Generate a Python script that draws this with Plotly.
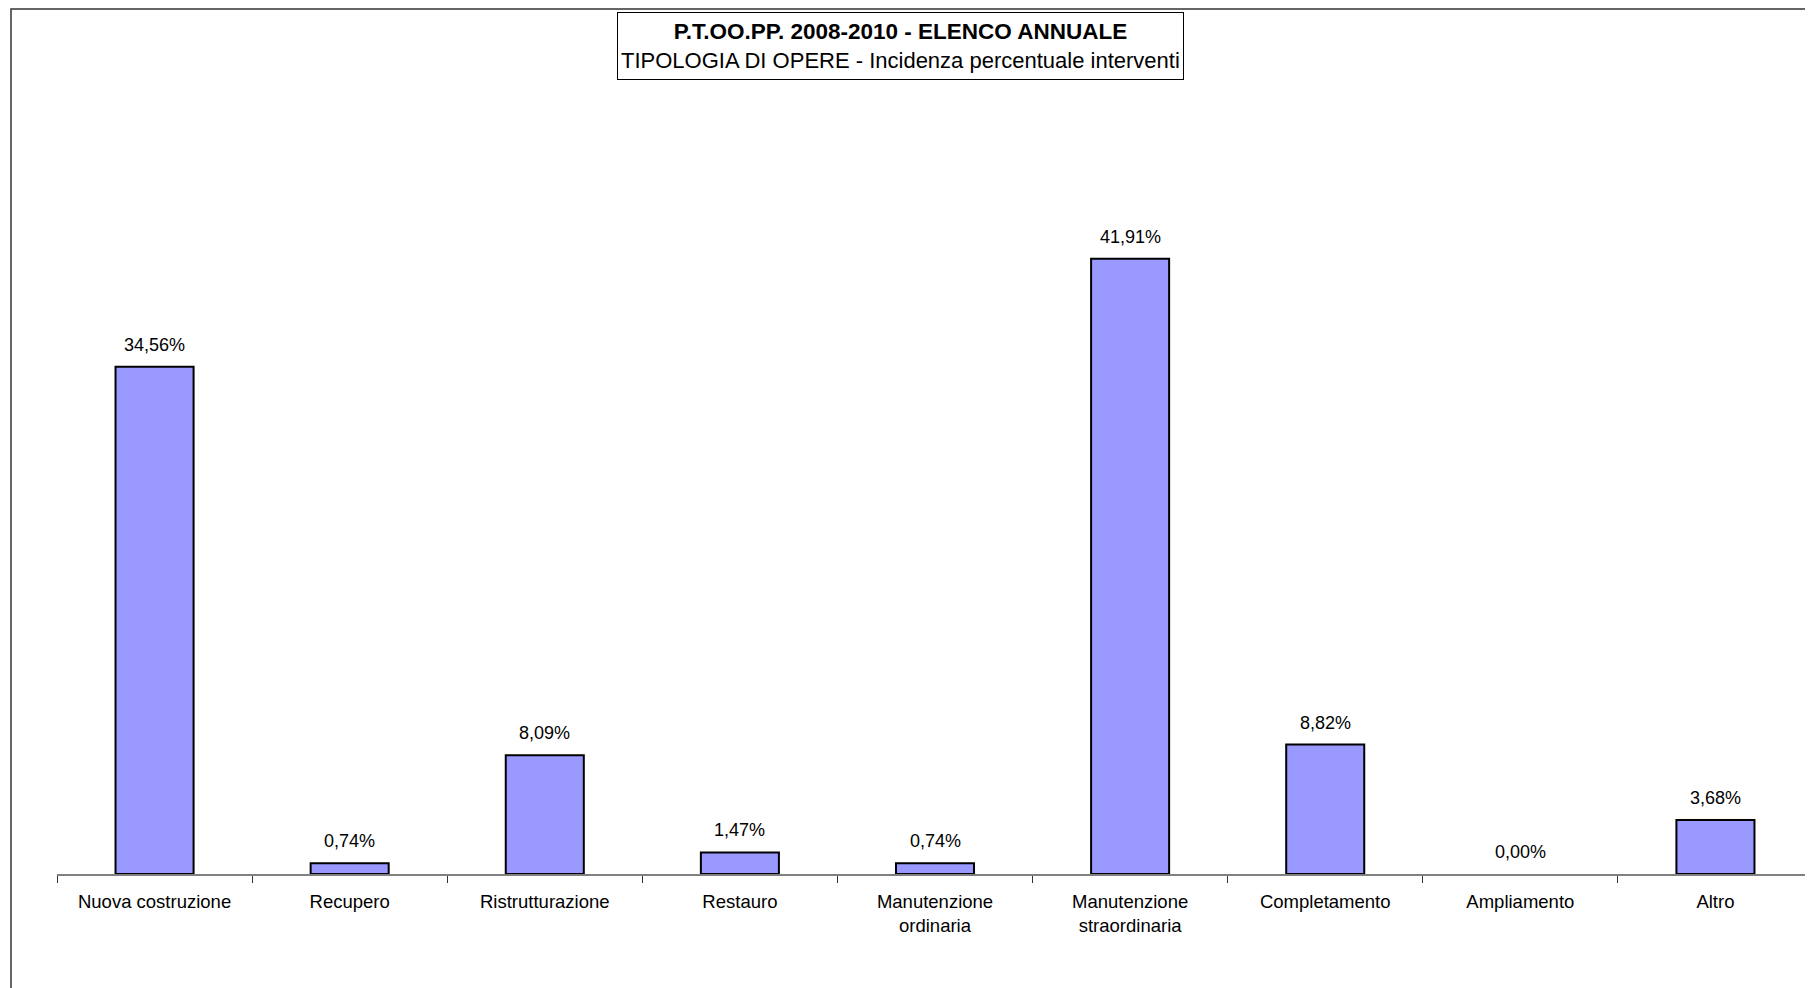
import plotly.graph_objects as go

# data
categorie = [
    "Nuova costruzione",
    "Recupero",
    "Ristrutturazione",
    "Restauro",
    "Manutenzione<br>ordinaria",
    "Manutenzione<br>straordinaria",
    "Completamento",
    "Ampliamento",
    "Altro",
]
percentuali = [34.56, 0.74, 8.09, 1.47, 0.74, 41.91, 8.82, 0.00, 3.68]

titolo = "P.T.OO.PP. 2008-2010 - ELENCO ANNUALE"
sottotitolo = "TIPOLOGIA DI OPERE - Incidenza percentuale interventi"

FONT = "Liberation Sans, Arial, sans-serif"

# the page body has an 8px margin, so pixel positions are shifted by 8
OFF = 8
W, H = 1813 - OFF, 988 - OFF
AXIS_Y = 874 - OFF
ML, MR, MT = 57 - OFF, 0, 140 - OFF
MB = H - AXIS_Y
plot_h = H - MT - MB
plot_w = W - ML - MR


def etichetta(v):
    # Italian decimal comma
    return f"{v:.2f}".replace(".", ",") + "%"


fig = go.Figure(
    go.Bar(
        x=categorie,
        y=percentuali,
        width=0.4,
        marker=dict(
            color="#9999FF",
            line=dict(color="#000000", width=[2 if v > 0 else 0 for v in percentuali]),
        ),
        hoverinfo="x+y",
    )
)

# value labels above each bar
for cat, v in zip(categorie, percentuali):
    fig.add_annotation(
        x=cat,
        y=v,
        text=etichetta(v),
        showarrow=False,
        yanchor="bottom",
        yshift=10,
        font=dict(family=FONT, size=18, color="#000000"),
    )

# boxed title
fig.add_annotation(
    xref="paper",
    yref="paper",
    x=(900 - OFF - ML) / plot_w,
    y=(AXIS_Y - (12 - OFF)) / plot_h,
    xanchor="center",
    yanchor="top",
    text=f"<b><span style='font-size:22.5px'>{titolo}</span></b><br>{sottotitolo}",
    showarrow=False,
    align="center",
    valign="middle",
    height=60,
    font=dict(family=FONT, size=22, color="#000000"),
    bordercolor="#000000",
    borderwidth=1,
    borderpad=3,
    bgcolor="#FFFFFF",
)

# outer chart frame (only left and top edges are visible in the picture)
fig.add_shape(
    type="rect",
    xref="paper",
    yref="paper",
    x0=(11 - OFF - ML) / plot_w,
    x1=1.1,
    y0=-0.5,
    y1=(AXIS_Y - 1) / plot_h,
    line=dict(color="#333333", width=1.5),
    layer="below",
)

fig.update_layout(
    width=W,
    height=H,
    margin=dict(l=ML, r=MR, t=MT, b=MB),
    paper_bgcolor="#FFFFFF",
    plot_bgcolor="#FFFFFF",
    showlegend=False,
    font=dict(family=FONT, size=18, color="#000000"),
)

fig.update_xaxes(
    showline=True,
    linecolor="#808080",
    linewidth=1.5,
    ticks="outside",
    tickson="boundaries",
    ticklen=7,
    tickcolor="#333333",
    tickwidth=1,
    ticklabelstandoff=10,
    showgrid=False,
    tickfont=dict(family=FONT, size=18.5, color="#000000"),
    range=[-0.5, len(categorie) - 0.5],
)

fig.update_yaxes(
    range=[0, 50],
    visible=False,
    showgrid=False,
    zeroline=False,
)

fig.write_html("out.html")
